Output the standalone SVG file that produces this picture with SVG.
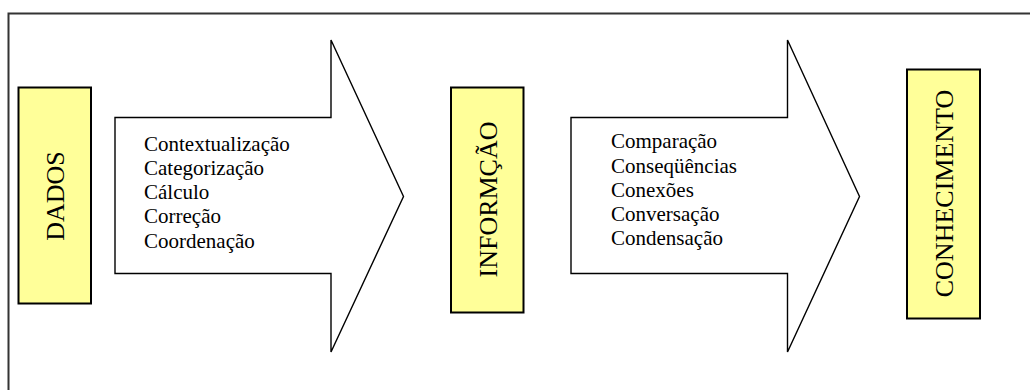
<svg xmlns="http://www.w3.org/2000/svg" width="1030" height="390" viewBox="0 0 1030 390">
<style>
.frame{fill:none;stroke:#333;stroke-width:2}
.box{fill:#ffff99;stroke:#000;stroke-width:2}
.arrow{fill:#fff;stroke:#000;stroke-width:1.4;stroke-linejoin:miter}
.lbl{font-family:'Liberation Serif','DejaVu Serif',serif;font-size:26px;fill:#000;text-anchor:middle}
.item{font-family:'Liberation Serif','DejaVu Serif',serif;font-size:21px;fill:#000}
</style>
<rect width="1030" height="390" fill="#fff"/>
<path class="frame" d="M8.5,395 V13.5 H1035"/>
<g id="connectors">
<polygon id="arrow1" class="arrow" points="115,117.5 331,117.5 331,40 403.5,196.5 331,352 331,273.5 115,273.5"/>
<polygon id="arrow2" class="arrow" points="571,117.5 787.5,117.5 787.5,40 859.5,196.5 787.5,352 787.5,273.5 571,273.5"/>
</g>
<g id="dados">
<rect class="box" x="18.5" y="87.5" width="72.5" height="216"/>
<text class="lbl" x="64" y="196" transform="rotate(-90 64 196)" font-family="Liberation Serif, serif">DADOS</text>
</g>
<g id="informacao">
<rect class="box" x="451" y="87.5" width="72.5" height="225"/>
<text class="lbl" x="497" y="199.5" transform="rotate(-90 497 199.5)" font-family="Liberation Serif, serif">INFORMÇÃO</text>
</g>
<g id="conhecimento">
<rect class="box" x="907" y="69.5" width="73" height="249"/>
<text class="lbl" x="952.5" y="193.5" transform="rotate(-90 952.5 193.5)" font-family="Liberation Serif, serif">CONHECIMENTO</text>
</g>
<g id="list1" font-family="Liberation Serif, serif">
<text class="item" x="144" y="150.7">Contextualização</text>
<text class="item" x="144" y="175">Categorização</text>
<text class="item" x="144" y="199.2">Cálculo</text>
<text class="item" x="144" y="223.4">Correção</text>
<text class="item" x="144" y="247.6">Coordenação</text>
</g>
<g id="list2" font-family="Liberation Serif, serif">
<text class="item" x="611" y="148.3">Comparação</text>
<text class="item" x="611" y="172.6">Conseqüências</text>
<text class="item" x="611" y="196.8">Conexões</text>
<text class="item" x="611" y="221">Conversação</text>
<text class="item" x="611" y="245.2">Condensação</text>
</g>
</svg>
